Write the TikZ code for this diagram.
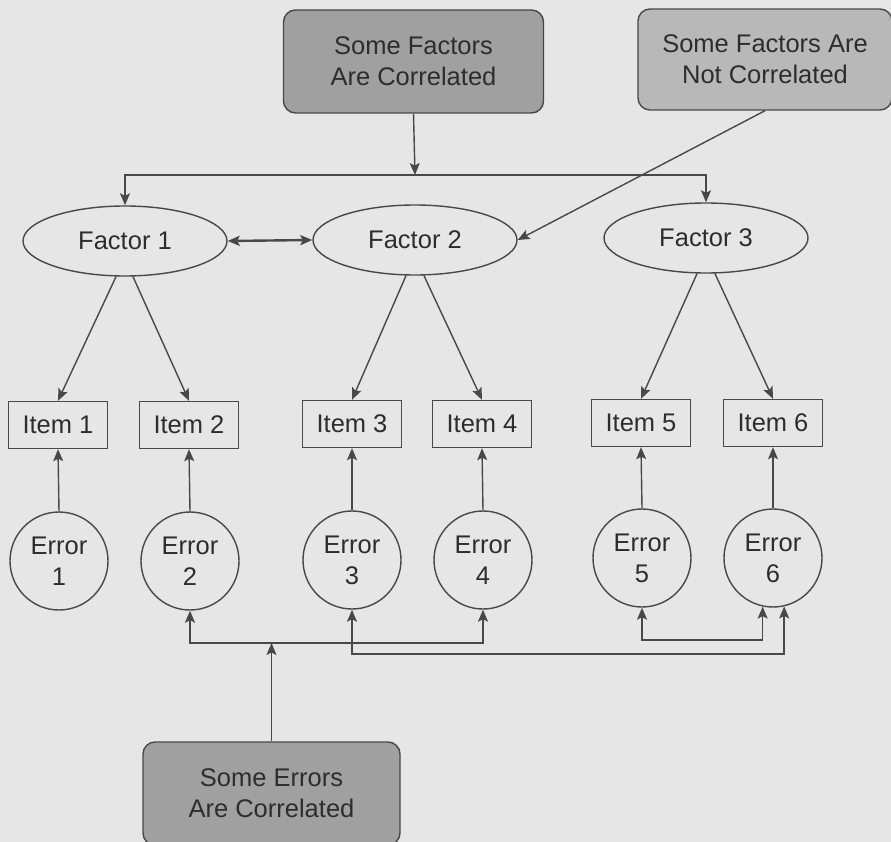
\documentclass[tikz,border=0pt]{standalone}
\usepackage{fontspec}
\setmainfont{Liberation Sans}
\usetikzlibrary{arrows.meta,shapes.geometric}
\definecolor{paper}{RGB}{230,230,230}
\definecolor{ink}{RGB}{72,72,72}
\definecolor{txt}{RGB}{45,45,45}
\definecolor{darkbox}{RGB}{160,160,160}
\definecolor{lightbox}{RGB}{184,184,184}
\begin{document}
\begin{tikzpicture}[x=1pt,y=-1pt,
  every node/.style={font=\fontsize{25.5}{31}\selectfont, text=txt},
  callout/.style={rectangle, draw=ink, line width=1.4pt, rounded corners=12pt,
    minimum width=260pt, minimum height=103pt, align=center, inner sep=0pt},
  factor/.style={ellipse, draw=ink, line width=1.4pt, minimum width=204pt,
    minimum height=70pt, inner sep=0pt},
  itembox/.style={rectangle, draw=ink, line width=1.4pt, minimum width=99pt,
    minimum height=47pt, inner sep=0pt},
  errnode/.style={circle, draw=ink, line width=1.4pt, minimum size=98pt,
    align=center, inner sep=0pt},
  tip/.tip={Stealth[length=12pt,width=10pt,inset=2.5pt]},
  link/.style={draw=ink, line width=1.4pt, -tip},
  twoway/.style={draw=ink, line width=1.4pt, tip-tip}
]
% page background
\fill[paper] (0,0) rectangle (891,842);
\useasboundingbox (0,0) rectangle (891,842);

% assumption boxes
\node[callout, fill=darkbox] (tl) at (413.5,61.5) {Some Factors\\Are Correlated};
\node[callout, fill=lightbox, minimum width=254pt, minimum height=101pt] (tr) at (765,59.5)
  {Some Factors Are\\Not Correlated};
\node[callout, fill=darkbox, minimum width=257pt] (be) at (271.5,793.5)
  {Some Errors\\Are Correlated};

% latent factors
\node[factor] (f1) at (125,241) {Factor 1};
\node[factor] (f2) at (415,240) {Factor 2};
\node[factor] (f3) at (706,238) {Factor 3};

% observed items
\node[itembox] (i1) at (58,425)  {Item 1};
\node[itembox] (i2) at (189,425) {Item 2};
\node[itembox] (i3) at (352,424) {Item 3};
\node[itembox] (i4) at (482,424) {Item 4};
\node[itembox] (i5) at (641,423) {Item 5};
\node[itembox] (i6) at (773,423) {Item 6};

% error terms
\node[errnode] (e1) at (59,561)  {Error\\1};
\node[errnode] (e2) at (190,561) {Error\\2};
\node[errnode] (e3) at (352,560) {Error\\3};
\node[errnode] (e4) at (483,560) {Error\\4};
\node[errnode] (e5) at (642,558) {Error\\5};
\node[errnode] (e6) at (773,558) {Error\\6};

% levels of the horizontal runs
\coordinate (top) at (415,175);
\coordinate (ya) at (0,643);
\coordinate (yb) at (0,654);
\coordinate (yc) at (0,640);

% correlated factors
\draw[link] (tl.south) -- (top);
\draw[twoway] (f1.north) -- (f1.north |- top) -- (f3.north |- top) -- (f3.north);
\draw[link] (tr.south) -- (f2.east);
\draw[draw=ink, line width=2.4pt, tip-tip] (f1.east) -- (f2.west);

% loadings
\draw[link] ([xshift=-9pt]f1.south) -- (i1.north);
\draw[link] ([xshift=8pt]f1.south) -- (i2.north);
\draw[link] ([xshift=-9pt]f2.south) -- (i3.north);
\draw[link] ([xshift=9pt]f2.south) -- (i4.north);
\draw[link] ([xshift=-9pt]f3.south) -- (i5.north);
\draw[link] ([xshift=9pt]f3.south) -- (i6.north);

% error paths
\foreach \k in {1,...,6} {\draw[link] (e\k.north) -- (i\k.south);}

% correlated errors
\draw[link] (be.north) -- (be.north |- ya);
\draw[twoway] (e2.south) -- (e2.south |- ya) -- (e4.south |- ya) -- (e4.south);
\draw[twoway] (e3.south) -- (e3.south |- yb) -- (e6.283 |- yb) -- (e6.283);
\draw[twoway] (e5.south) -- (e5.south |- yc) -- (e6.258 |- yc) -- (e6.258);
\end{tikzpicture}
\end{document}
